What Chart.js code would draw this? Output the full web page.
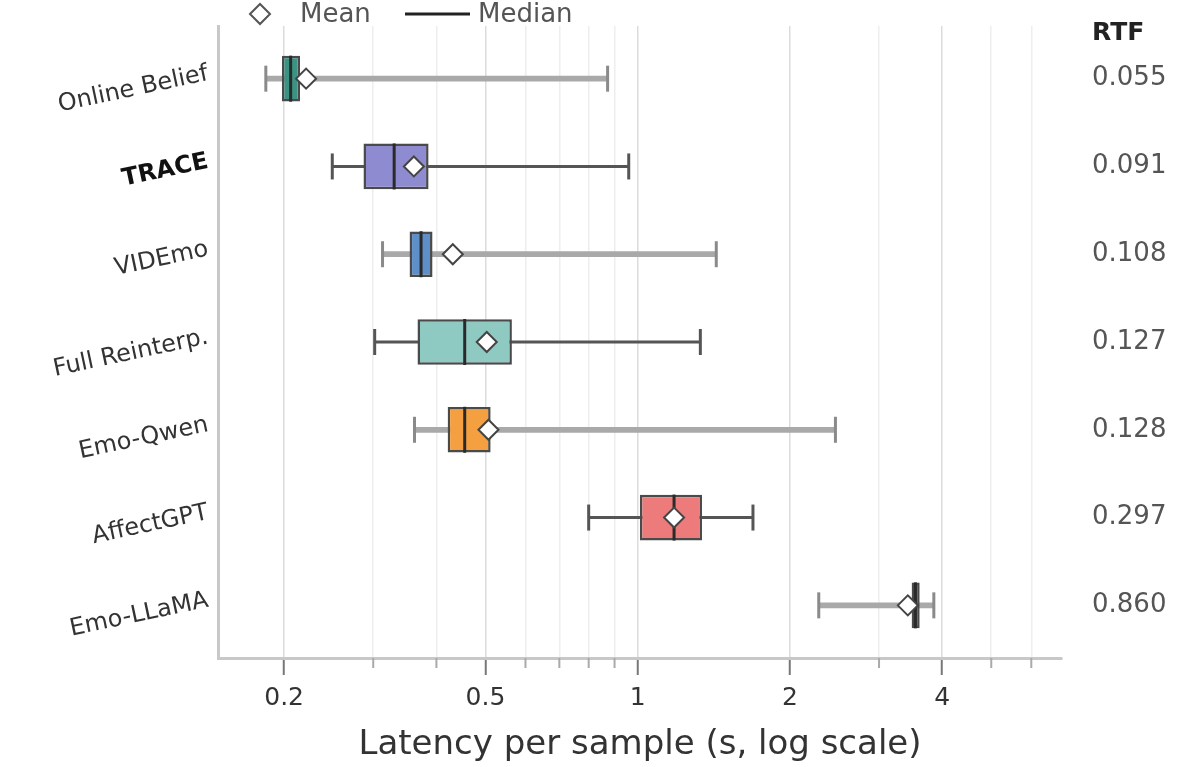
<!DOCTYPE html>
<html>
<head>
<meta charset="utf-8">
<script src="https://cdn.jsdelivr.net/npm/chart.js@4.4.1/dist/chart.umd.min.js"></script>
<style>
  html, body { margin: 0; padding: 0; background: #fff; }
  #wrap { width: 1200px; height: 767px; position: relative; }
</style>
</head>
<body>
<div id="wrap"><canvas id="latencyChart"></canvas></div>
<script>
// latency per sample (seconds)
const categories = ['Online Belief', 'TRACE', 'VIDEmo', 'Full Reinterp.', 'Emo-Qwen', 'AffectGPT', 'Emo-LLaMA'];
const whiskerLow = [0.184, 0.249, 0.313, 0.302, 0.362, 0.80, 2.28];
const q1 = [0.198, 0.287, 0.354, 0.367, 0.421, 1.01, 3.48];
const median = [0.206, 0.330, 0.373, 0.455, 0.455, 1.18, 3.54];
const q3 = [0.215, 0.386, 0.393, 0.564, 0.512, 1.34, 3.61];
const whiskerHigh = [0.872, 0.960, 1.43, 1.33, 2.46, 1.69, 3.85];
const mean = [0.221, 0.361, 0.431, 0.503, 0.507, 1.18, 3.42];
const rtf = ['0.055', '0.091', '0.108', '0.127', '0.128', '0.297', '0.860'];

const xTickValues = [0.2, 0.3, 0.4, 0.5, 0.6, 0.7, 0.8, 0.9, 1, 2, 3, 4, 5, 6];
const xTickLabels = ['0.2', '0.5', '1', '2', '4'];

// styling
const boxColors = ['#3b9384', '#8f8bd0', '#5f8fc8', '#8fcac2', '#f4a040', '#ee7b7b', '#555555'];
const lightWhisker = [true, false, true, false, true, false, true];

Chart.defaults.font.family = 'DejaVu Sans';

const isMajor = v => xTickLabels.includes(String(v));

function rowTicks(scale) {
    scale.ticks = categories.map((c, i) => ({ value: i }));
}

function noPad(scale) {
    scale.paddingTop = 0;
    scale.paddingBottom = 0;
}

function whiskerData(light) {
    const pts = [];
    categories.forEach((c, i) => {
        if (lightWhisker[i] === light) pts.push({ y: i, x: [whiskerLow[i], whiskerHigh[i]] });
    });
    return pts;
}

const capPoints = [];
const capColors = [];
categories.forEach((c, i) => {
    capPoints.push({ x: whiskerLow[i], y: i }, { x: whiskerHigh[i], y: i });
    const col = lightWhisker[i] ? '#8a8a8a' : '#555555';
    capColors.push(col, col);
});

// minor tick marks, RTF header and the legend
const extras = {
    id: 'extras',
    afterDraw(chart) {
        const ctx = chart.ctx;
        const xs = chart.scales.x;
        const area = chart.chartArea;
        ctx.save();
        ctx.strokeStyle = '#aaaaaa';
        ctx.lineWidth = 2;
        xTickValues.filter(v => !isMajor(v)).forEach(v => {
            const px = xs.getPixelForValue(v);
            ctx.beginPath();
            ctx.moveTo(px, area.bottom);
            ctx.lineTo(px, area.bottom + 10);
            ctx.stroke();
        });

        const y2 = chart.scales.y2;
        ctx.fillStyle = '#222';
        ctx.font = 'bold 25px "DejaVu Sans"';
        ctx.textAlign = 'left';
        ctx.textBaseline = 'middle';
        ctx.fillText('RTF', y2.left + 30, 33);

        // legend
        ctx.fillStyle = '#fff';
        ctx.fillRect(238, 0, 362, 25);
        ctx.beginPath();
        ctx.moveTo(250, 14);
        ctx.lineTo(260, 4);
        ctx.lineTo(270, 14);
        ctx.lineTo(260, 24);
        ctx.closePath();
        ctx.fillStyle = '#fff';
        ctx.fill();
        ctx.strokeStyle = '#555';
        ctx.lineWidth = 2;
        ctx.stroke();
        ctx.fillStyle = '#555';
        ctx.font = '26px "DejaVu Sans"';
        ctx.fillText('Mean', 300, 15);
        ctx.strokeStyle = '#222';
        ctx.lineWidth = 3;
        ctx.beginPath();
        ctx.moveTo(405, 14);
        ctx.lineTo(470, 14);
        ctx.stroke();
        ctx.fillText('Median', 478, 15);
        ctx.restore();
    }
};

const rowScale = {
    type: 'linear',
    min: -0.6,
    max: 6.6,
    offset: false,
    reverse: true,
    afterBuildTicks: rowTicks
};

new Chart(document.getElementById('latencyChart'), {
    type: 'bar',
    data: {
        datasets: [
            {
                type: 'scatter',
                label: 'Mean',
                data: categories.map((c, i) => ({ x: mean[i], y: i })),
                pointStyle: 'rectRot',
                pointRadius: 10,
                pointHoverRadius: 10,
                pointBackgroundColor: '#ffffff',
                pointBorderColor: '#444444',
                pointBorderWidth: 2,
                order: 0
            },
            {
                type: 'scatter',
                label: 'Median',
                data: categories.map((c, i) => ({ x: median[i], y: i })),
                pointStyle: 'line',
                pointRotation: 90,
                pointRadius: 23,
                pointHoverRadius: 23,
                pointBorderColor: '#2a2a2a',
                pointBorderWidth: 3,
                order: 1
            },
            {
                type: 'scatter',
                label: 'Caps',
                data: capPoints,
                pointStyle: 'line',
                pointRotation: 90,
                pointRadius: 13,
                pointHoverRadius: 13,
                pointBorderColor: capColors,
                pointBorderWidth: 3,
                order: 2
            },
            {
                label: 'Box',
                data: categories.map((c, i) => ({ y: i, x: [q1[i], q3[i]] })),
                backgroundColor: boxColors,
                borderColor: '#4a4a4a',
                borderWidth: 2.5,
                borderSkipped: false,
                grouped: false,
                categoryPercentage: 1,
                barPercentage: 0.52,
                order: 3
            },
            {
                label: 'Whisker light',
                data: whiskerData(true),
                backgroundColor: '#a9a9a9',
                grouped: false,
                categoryPercentage: 1,
                barPercentage: 0.065,
                order: 4
            },
            {
                label: 'Whisker dark',
                data: whiskerData(false),
                backgroundColor: '#555555',
                grouped: false,
                categoryPercentage: 1,
                barPercentage: 0.035,
                order: 4
            }
        ]
    },
    options: {
        indexAxis: 'y',
        responsive: true,
        maintainAspectRatio: false,
        animation: false,
        layout: { padding: { top: 20, left: 0, right: 0, bottom: 0 } },
        plugins: {
            legend: { display: false },
            tooltip: { enabled: false }
        },
        scales: {
            x: {
                type: 'logarithmic',
                position: 'bottom',
                min: 0.148,
                max: 6.9,
                afterBuildTicks: scale => {
                    scale.ticks = xTickValues.map(v => ({ value: v }));
                },
                afterFit: scale => { scale.height = 109; },
                border: { display: true, color: '#c8c8c8', width: 3 },
                grid: {
                    color: ctx => (ctx.tick && isMajor(ctx.tick.value)) ? '#dcdcdc' : '#eeeeee',
                    lineWidth: 1.5,
                    drawTicks: true,
                    tickLength: 17,
                    tickWidth: 2,
                    tickColor: ctx => (ctx.tick && isMajor(ctx.tick.value)) ? '#777777' : 'rgba(0,0,0,0)'
                },
                ticks: {
                    autoSkip: false,
                    maxRotation: 0,
                    padding: 8,
                    color: '#333',
                    font: { size: 25 },
                    callback: v => isMajor(v) ? String(v) : ''
                },
                title: {
                    display: true,
                    text: 'Latency per sample (s, log scale)',
                    color: '#333',
                    font: { size: 34 },
                    padding: { top: 0, bottom: 1 }
                }
            },
            y: Object.assign({}, rowScale, {
                position: 'left',
                afterFit: scale => { scale.width = 218; noPad(scale); },
                border: { display: true, color: '#c8c8c8', width: 3 },
                grid: { display: false, drawTicks: false },
                ticks: {
                    autoSkip: false,
                    minRotation: 12,
                    maxRotation: 12,
                    padding: 10,
                    labelOffset: -5,
                    color: ctx => (ctx.tick && categories[ctx.tick.value] === 'TRACE') ? '#111' : '#333',
                    font: ctx => ({
                        size: 24,
                        weight: (ctx.tick && categories[ctx.tick.value] === 'TRACE') ? 'bold' : 'normal'
                    }),
                    callback: v => categories[v]
                }
            }),
            y2: Object.assign({}, rowScale, {
                position: 'right',
                afterFit: scale => { scale.width = 138; noPad(scale); },
                border: { display: false },
                grid: { display: false, drawTicks: false },
                ticks: {
                    autoSkip: false,
                    padding: 30,
                    color: '#555',
                    font: { size: 26 },
                    callback: v => rtf[v]
                }
            })
        }
    },
    plugins: [extras]
});
</script>
</body>
</html>
